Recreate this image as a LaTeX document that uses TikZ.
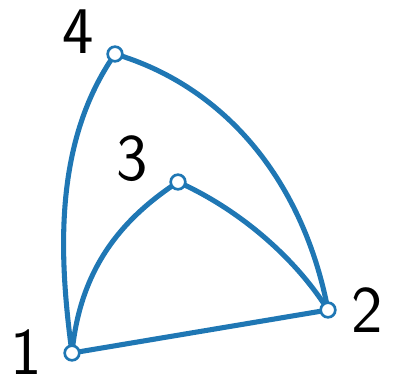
\documentclass[tikz,border=0pt]{standalone}
\usetikzlibrary{backgrounds}
\definecolor{edgeblue}{HTML}{1F77B4}
\tikzset{
  vert/.style={circle,draw=edgeblue,fill=white,line width=2pt,minimum size=11pt,inner sep=0pt},
  edge/.style={draw=edgeblue,line width=3.8pt},
  lbl/.style={font=\fontsize{50}{50}\selectfont\sffamily,inner sep=0pt,anchor=center}
}
\begin{document}
\begin{tikzpicture}[x=0.75pt,y=-0.75pt]
\useasboundingbox (0,0) rectangle (400,385);
\node[vert] (n1) at (72,353) {};
\node[vert] (n2) at (328,310) {};
\node[vert] (n3) at (178,182) {};
\node[vert] (n4) at (115,54) {};
\begin{scope}[on background layer]
\draw[edge] (n1.center) -- (n2.center);
\draw[edge] (n1.center) .. controls (58,250) and (55,140) .. (n4.center);
\draw[edge] (n1.center) .. controls (80,270) and (120,220) .. (n3.center);
\draw[edge] (n3.center) .. controls (230,205) and (290,250) .. (n2.center);
\draw[edge] (n4.center) .. controls (220,85) and (302,175) .. (n2.center);
\end{scope}
\node[lbl] (l1) at (26,352) {1};
\node[lbl] (l2) at (367,310) {2};
\node[lbl] (l3) at (132,159) {3};
\node[lbl] (l4) at (78,32) {4};
\end{tikzpicture}
\end{document}
